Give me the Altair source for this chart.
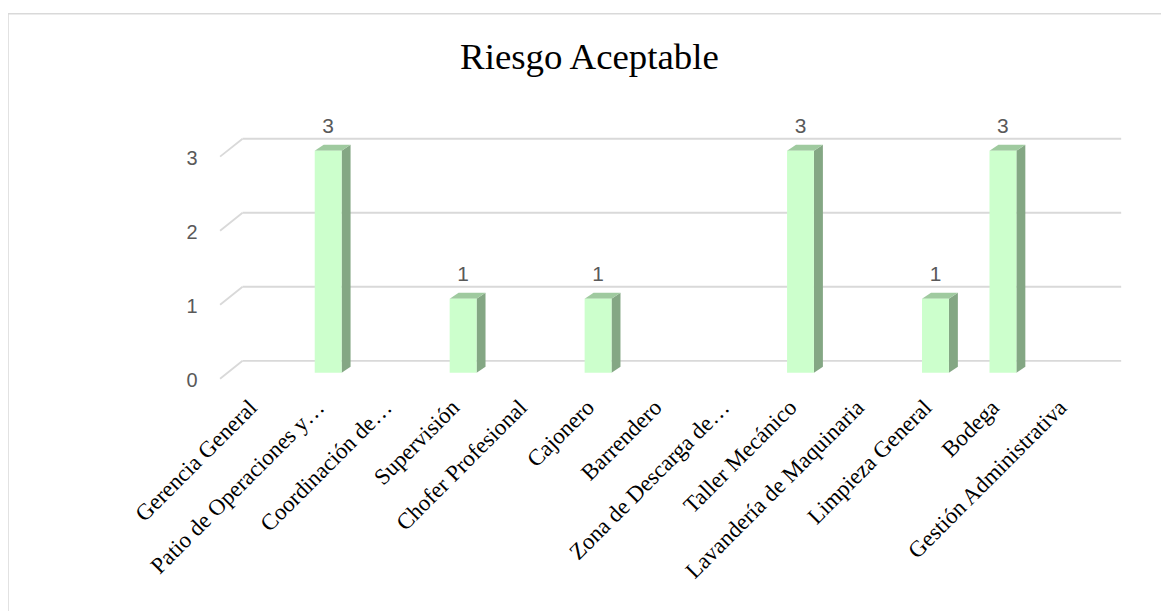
import json
import altair as alt
import pandas as pd

# ---------------- data ----------------
categories = [
    "Gerencia General",
    "Patio de Operaciones y…",
    "Coordinación de…",
    "Supervisión",
    "Chofer Profesional",
    "Cajonero",
    "Barrendero",
    "Zona de Descarga de…",
    "Taller Mecánico",
    "Lavandería de Maquinaria",
    "Limpieza General",
    "Bodega",
    "Gestión Administrativa",
]
values = [0, 3, 0, 1, 0, 1, 0, 0, 3, 0, 1, 3, 0]
y_ticks = [0, 1, 2, 3]
title_text = "Riesgo Aceptable"

# ---------------- style / geometry ----------------
W, H = 905, 223
FLOOR_W = 881
N = len(categories)
PX = FLOOR_W / N          # px per category unit
YMAX = 3
PY = H / YMAX             # px per value unit
GRID_DX, GRID_DY = 22.6, 18
BAR_W, BAR_SHIFT, BAR_DY = 27, 6.9, 12
SIDE_DX, SIDE_DY = 9, 6

FRONT = "#CCFFCC"
SIDE = "#84A784"
TOP = "#9FCA9F"
GRID = "#D9D9D9"
TXT = "#595959"
SERIF = "Liberation Serif"
SANS = "Liberation Sans"

dx = SIDE_DX / PX
dy = SIDE_DY / PY

front_rows, side_rows, top_rows, label_rows = [], [], [], []
for i, (c, v) in enumerate(zip(categories, values)):
    if v <= 0:
        continue
    ctr = i + 0.5 + BAR_SHIFT / PX
    xl = ctr - (BAR_W / 2) / PX
    xr = ctr + (BAR_W / 2) / PX
    front_rows.append({"cat": c, "x": xl, "x2": xr, "v": v})
    side_rows += [
        {"cat": c, "x": xr, "top": v, "bot": 0},
        {"cat": c, "x": xr + dx, "top": v + dy, "bot": dy},
    ]
    top_rows += [
        {"cat": c, "x": xl, "top": v, "bot": v},
        {"cat": c, "x": xl + dx, "top": v + dy, "bot": v},
        {"cat": c, "x": xr, "top": v + dy, "bot": v},
        {"cat": c, "x": xr + dx, "top": v + dy, "bot": v + dy},
    ]
    label_rows.append({"cat": c, "x": ctr, "v": v})

front_df = pd.DataFrame(front_rows)
side_df = pd.DataFrame(side_rows)
top_df = pd.DataFrame(top_rows)
label_df = pd.DataFrame(label_rows)
grid_df = pd.DataFrame({"v": y_ticks})
one = pd.DataFrame({"t": [title_text]})

label_expr = json.dumps(categories, ensure_ascii=False) + "[floor(datum.value)]"

x_scale = alt.Scale(domain=[0, N], range=[0, FLOOR_W], nice=False, zero=False)
y_scale = alt.Scale(domain=[0, YMAX], nice=False, zero=True)

x_axis = alt.Axis(
    values=[i + 0.5 for i in range(N)],
    labelExpr=label_expr,
    labelAngle=-45,
    labelAlign="right",
    labelBaseline="middle",
    labelPadding=43,
    labelOffset=-1,
    labelFont=SERIF,
    labelFontSize=23,
    labelColor="#000000",
    labelLimit=2000,
    labelFlush=False,
    labelOverlap=False,
    labelBound=False,
    domain=False,
    ticks=False,
    tickSize=0,
    grid=False,
    title=None,
)
y_axis = alt.Axis(
    values=y_ticks,
    format="d",
    labelOffset=19.5,
    labelPadding=23,
    labelFont=SANS,
    labelFontSize=20,
    labelColor=TXT,
    domain=False,
    ticks=False,
    tickSize=0,
    grid=False,
    title=None,
)


def X(field):
    return alt.X(field, type="quantitative", scale=x_scale, axis=x_axis)


def Y(field):
    return alt.Y(field, type="quantitative", scale=y_scale, axis=y_axis)


grid_back = alt.Chart(grid_df).mark_rule(color=GRID, strokeWidth=1.8).encode(
    x=alt.value(GRID_DX), x2=alt.value(W), y=Y("v:Q")
)
grid_front = alt.Chart(grid_df).mark_rule(
    color=GRID, strokeWidth=1.8, yOffset=GRID_DY, y2Offset=0
).encode(
    x=alt.value(0), x2=alt.value(GRID_DX), y=Y("v:Q"), y2="v:Q"
)

side = alt.Chart(side_df).mark_area(
    color=SIDE, yOffset=BAR_DY, y2Offset=BAR_DY, interpolate="linear"
).encode(x=X("x:Q"), y=Y("top:Q"), y2="bot:Q", detail="cat:N")

top = alt.Chart(top_df).mark_area(
    color=TOP, yOffset=BAR_DY, y2Offset=BAR_DY, interpolate="linear"
).encode(x=X("x:Q"), y=Y("top:Q"), y2="bot:Q", detail="cat:N")

front = alt.Chart(front_df).mark_rect(
    color=FRONT, yOffset=BAR_DY, y2Offset=BAR_DY
).encode(x=X("x:Q"), x2="x2:Q", y=Y("v:Q"), y2=alt.datum(0))

labels = alt.Chart(label_df).mark_text(
    font=SANS, fontSize=21, color=TXT, baseline="alphabetic", align="center", dy=-5.5
).encode(x=X("x:Q"), y=Y("v:Q"), text=alt.Text("v:Q", format="d"))

title = alt.Chart(one).mark_text(
    font=SERIF, fontSize=37, color="#000000", baseline="alphabetic", align="center"
).encode(x=alt.value(371), y=alt.value(-70.3), text="t:N")

border_top = alt.Chart(one).mark_rule(color=GRID, strokeWidth=1.5).encode(
    x=alt.value(-213), x2=alt.value(960), y=alt.value(-125.5)
)
border_left = alt.Chart(one).mark_rule(color=GRID, strokeWidth=1.5).encode(
    x=alt.value(-213), y=alt.value(-125.5), y2=alt.value(490)
)

chart = alt.layer(
    border_top, border_left, grid_back, grid_front, side, top, front, labels, title
).properties(
    width=W,
    height=H,
    autosize=alt.AutoSizeParams(type="none"),
    padding={"left": 213, "top": 130, "right": 40, "bottom": 250},
).configure(background="#FFFFFF").configure_view(stroke="transparent", strokeWidth=0)

chart.save("out.html", embed_options={"renderer": "svg", "actions": False})
